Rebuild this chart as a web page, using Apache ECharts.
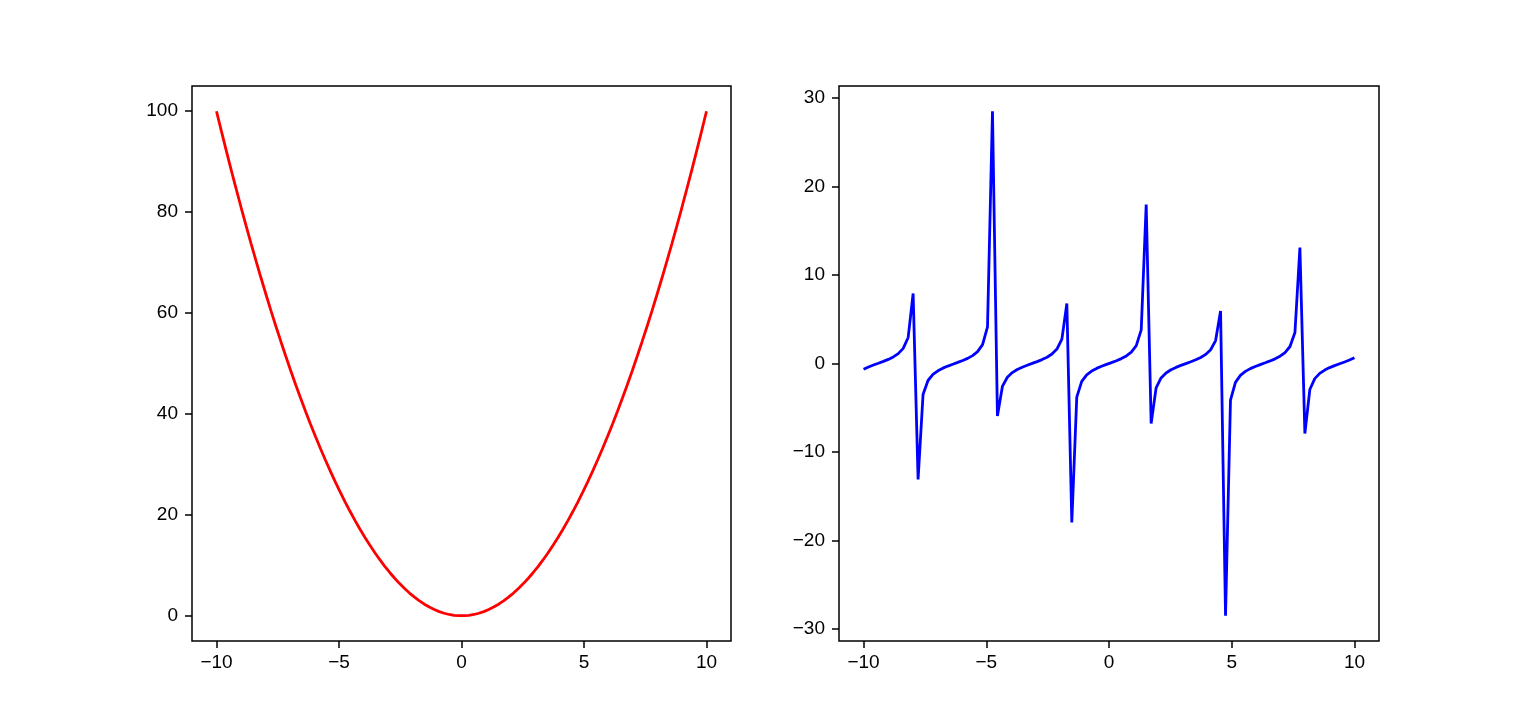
<!DOCTYPE html>
<html>
<head>
<meta charset="utf-8">
<script src="https://cdn.jsdelivr.net/npm/echarts@6/dist/echarts.min.js"></script>
<style>
html,body{margin:0;padding:0;background:#fff;}
#c{width:1532px;height:720px;}
</style>
</head>
<body>
<div id="c"></div>
<script>
const xValues = [-10.0000,-9.7980,-9.5960,-9.3939,-9.1919,-8.9899,-8.7879,-8.5859,-8.3838,-8.1818,-7.9798,-7.7778,-7.5758,-7.3737,-7.1717,-6.9697,-6.7677,-6.5657,-6.3636,-6.1616,-5.9596,-5.7576,-5.5556,-5.3535,-5.1515,-4.9495,-4.7475,-4.5455,-4.3434,-4.1414,-3.9394,-3.7374,-3.5354,-3.3333,-3.1313,-2.9293,-2.7273,-2.5253,-2.3232,-2.1212,-1.9192,-1.7172,-1.5152,-1.3131,-1.1111,-0.9091,-0.7071,-0.5051,-0.3030,-0.1010,0.1010,0.3030,0.5051,0.7071,0.9091,1.1111,1.3131,1.5152,1.7172,1.9192,2.1212,2.3232,2.5253,2.7273,2.9293,3.1313,3.3333,3.5354,3.7374,3.9394,4.1414,4.3434,4.5455,4.7475,4.9495,5.1515,5.3535,5.5556,5.7576,5.9596,6.1616,6.3636,6.5657,6.7677,6.9697,7.1717,7.3737,7.5758,7.7778,7.9798,8.1818,8.3838,8.5859,8.7879,8.9899,9.1919,9.3939,9.5960,9.7980,10.0000];

const squareValues = [100,96.0004,92.0824,88.2461,84.4914,80.8183,77.2268,73.7170,70.2887,66.9421,63.6772,60.4938,57.3921,54.3720,51.4335,48.5767,45.8015,43.1078,40.4959,37.9655,35.5168,33.1497,30.8642,28.6603,26.5381,24.4975,22.5385,20.6612,18.8654,17.1513,15.5188,13.9680,12.4987,11.1111,9.8051,8.5808,7.4380,6.3769,5.3974,4.4995,3.6833,2.9487,2.2957,1.7243,1.2346,0.8264,0.5000,0.2551,0.0918,0.0102,0.0102,0.0918,0.2551,0.5000,0.8264,1.2346,1.7243,2.2957,2.9487,3.6833,4.4995,5.3974,6.3769,7.4380,8.5808,9.8051,11.1111,12.4987,13.9680,15.5188,17.1513,18.8654,20.6612,22.5385,24.4975,26.5381,28.6603,30.8642,33.1497,35.5168,37.9655,40.4959,43.1078,45.8015,48.5767,51.4335,54.3720,57.3921,60.4938,63.6772,66.9421,70.2887,73.7170,77.2268,80.8183,84.4914,88.2461,92.0824,96.0004,100];

const tanValues = [-0.6484,-0.3915,-0.1729,0.0308,0.2372,0.4646,0.7397,1.1131,1.7074,2.9404,7.9061,-13.097,-3.5010,-1.9197,-1.2309,-0.8195,-0.5263,-0.2902,-0.0806,0.1222,0.3354,0.5800,0.8907,1.3399,2.1290,4.1382,28.490,-5.9346,-2.5863,-1.5568,-1.0251,-0.6780,-0.4155,-0.1941,0.0103,0.2155,0.4398,0.7084,1.0682,1.6295,2.7532,6.7827,-17.953,-3.7947,-2.0200,-1.2840,-0.8544,-0.5529,-0.3127,-0.1014,0.1014,0.3127,0.5529,0.8544,1.2840,2.0200,3.7947,17.953,-6.7827,-2.7532,-1.6295,-1.0682,-0.7084,-0.4398,-0.2155,-0.0103,0.1941,0.4155,0.6780,1.0251,1.5568,2.5863,5.9346,-28.490,-4.1382,-2.1290,-1.3399,-0.8907,-0.5800,-0.3354,-0.1222,0.0806,0.2902,0.5263,0.8195,1.2309,1.9197,3.5010,13.097,-7.9061,-2.9404,-1.7074,-1.1131,-0.7397,-0.4646,-0.2372,-0.0308,0.1729,0.3915,0.6484];

const xTicks = [-10, -5, 0, 5, 10];
const leftYTicks = [0, 20, 40, 60, 80, 100];
const rightYTicks = [-30, -20, -10, 0, 10, 20, 30];

const fmt = v => String(v).replace('-', '\u2212');
const labelStyle = {color: '#000', fontFamily: 'Liberation Sans', fontSize: 19};

function xAxis(gridIndex) {
  return {
    type: 'value', gridIndex, min: -11, max: 11, position: 'bottom',
    axisLine: {show: false, onZero: false},
    splitLine: {show: false},
    axisTick: {show: true, inside: false, length: 7, customValues: xTicks, lineStyle: {color: '#000', width: 1.5}},
    axisLabel: Object.assign({customValues: xTicks, margin: 12, formatter: fmt}, labelStyle)
  };
}
function yAxis(gridIndex, min, max, ticks) {
  return {
    type: 'value', gridIndex, min, max, position: 'left',
    axisLine: {show: false, onZero: false},
    splitLine: {show: false},
    axisTick: {show: true, inside: false, length: 7, customValues: ticks, lineStyle: {color: '#000', width: 1.5}},
    axisLabel: Object.assign({customValues: ticks, margin: 14, formatter: fmt}, labelStyle)
  };
}

const chart = echarts.init(document.getElementById('c'), null, {renderer: 'canvas'});
chart.setOption({
  animation: false,
  backgroundColor: '#fff',
  grid: [
    {left: 192, top: 86, width: 539, height: 555, show: true, borderColor: '#000', borderWidth: 1.5, backgroundColor: 'transparent'},
    {left: 839, top: 86, width: 540, height: 555, show: true, borderColor: '#000', borderWidth: 1.5, backgroundColor: 'transparent'}
  ],
  xAxis: [xAxis(0), xAxis(1)],
  yAxis: [yAxis(0, -5, 105, leftYTicks), yAxis(1, -31.34, 31.34, rightYTicks)],
  series: [
    {type: 'line', xAxisIndex: 0, yAxisIndex: 0, showSymbol: false,
     data: xValues.map((x, i) => [x, squareValues[i]]),
     lineStyle: {color: '#ff0000', width: 2.8}, itemStyle: {color: '#ff0000'}},
    {type: 'line', xAxisIndex: 1, yAxisIndex: 1, showSymbol: false,
     data: xValues.map((x, i) => [x, tanValues[i]]),
     lineStyle: {color: '#0000ff', width: 2.8}, itemStyle: {color: '#0000ff'}}
  ]
});
</script>
</body>
</html>
